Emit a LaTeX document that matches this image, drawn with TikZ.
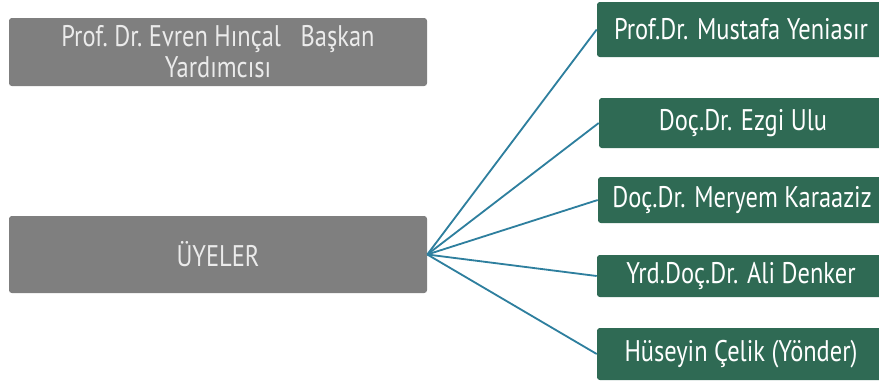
\documentclass[tikz,border=0pt]{standalone}
\usepackage{fontspec}
\setmainfont{PT Sans}[FakeStretch=0.82]
\usepackage{xcolor}
\usepackage{tikz}

\definecolor{boxgray}{HTML}{7F7F7F}
\definecolor{boxgreen}{HTML}{2F6A54}
\definecolor{linkblue}{HTML}{2E7F9E}

\begin{document}
\begin{tikzpicture}[
    x=0.025cm, y=-0.025cm,
    every node/.style={rounded corners=2pt, inner sep=0pt, align=center,
        font=\fontsize{21.2}{22}\selectfont},
    link/.style={draw=linkblue, line width=1.3pt}
]
\tikzstyle{headbox} = [fill=boxgray, text=white!92!black, minimum width=418*0.025cm]
\tikzstyle{member} = [fill=boxgreen, text=white, minimum width=288*0.025cm]

\useasboundingbox (0,0) rectangle (879,383);
\clip (0,0) rectangle (879,383);

% Left column
\node[headbox, minimum height=68*0.025cm] (vice) at (218,52)
    {Prof.\ Dr.\ Evren Hınçal \ \ Başkan\\Yardımcısı};
\node[headbox, minimum height=77*0.025cm] (uyeler) at (218,254.5) {ÜYELER};

% Members on the right
\node[member, minimum height=55*0.025cm] (m1) at (741,29.5) {Prof.Dr. Mustafa Yeniasır};
\node[member, minimum height=50*0.025cm] (m2) at (743,123) {Doç.Dr. Ezgi Ulu};
\node[member, minimum height=46*0.025cm] (m3) at (742,200) {Doç.Dr. Meryem Karaaziz};
\node[member, minimum height=42*0.025cm] (m4) at (741,276) {Yrd.Doç.Dr. Ali Denker};
\node[member, minimum height=52*0.025cm] (m5) at (741,354) {Hüseyin Çelik (Yönder)};

% Connect ÜYELER to members
\foreach \m in {m1,m2,m3,m4,m5}
    \draw[link] (uyeler.east) -- (\m.west);
\end{tikzpicture}
\end{document}
